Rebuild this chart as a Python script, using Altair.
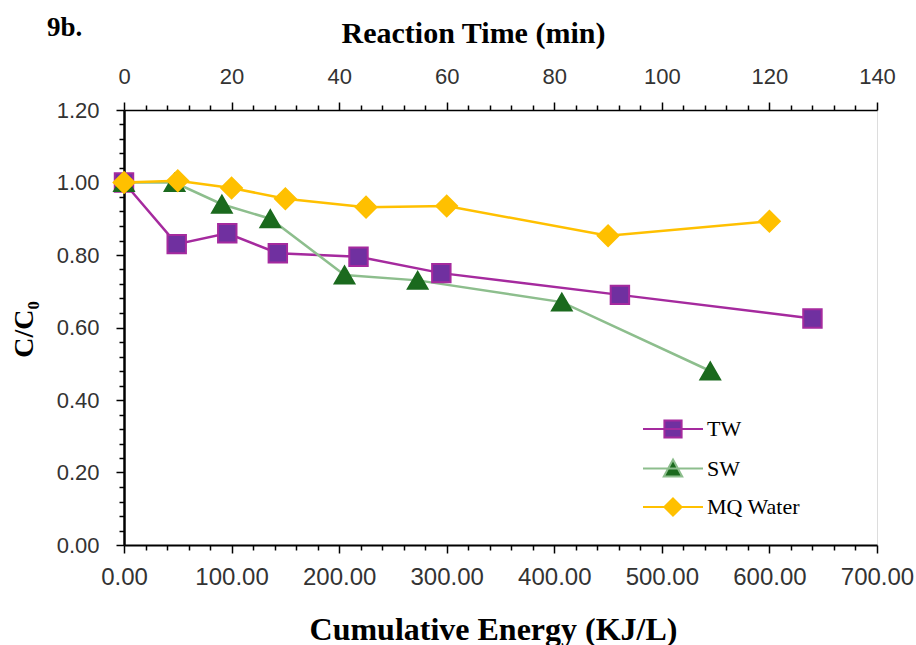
import altair as alt
import pandas as pd

# Series and their measured points (cumulative energy in KJ/L vs C/C0)
series_names = ["TW", "SW", "MQ Water"]

tw_energy = [0, 49, 96, 143, 218, 295, 461, 640]
tw_ratio = [1.00, 0.83, 0.86, 0.805, 0.795, 0.75, 0.69, 0.625]

sw_energy = [0, 47, 91, 136, 205, 273, 407, 545]
sw_ratio = [1.00, 1.00, 0.94, 0.90, 0.745, 0.73, 0.67, 0.48]

mq_energy = [0, 50, 100, 150, 225, 300, 450, 600]
mq_ratio = [1.00, 1.005, 0.985, 0.955, 0.932, 0.935, 0.853, 0.893]
mq_time = [0, 10, 20, 30, 45, 60, 90, 120]

# Tick positions (major + minor) for the three axes
energy_ticks = list(range(0, 701, 20))
time_ticks = list(range(0, 141, 4))
ratio_ticks = [round(i * 0.04, 2) for i in range(31)]

line_colors = ["#A52A9E", "#8DBE8D", "#FFC000"]
fill_colors = ["#7030A0", "#1B6A1E", "#FFC000"]
edge_colors = ["#A52A9E", "#1B6A1E", "#FFC000"]
marker_shapes = ["square", "triangle-up", "diamond"]
# legend glyphs: a short line with the series marker in the middle
legend_glyphs = [
    "M-1.5,0H1.5M-0.43,-0.43H0.43V0.43H-0.43Z",
    "M-1.5,0H1.5M0,-0.45L0.46,0.4H-0.46Z",
    "M-1.5,0H1.5M0,-0.43L0.43,0L0,0.43L-0.43,0Z",
]

rows = []
for name, xs, ys in [("TW", tw_energy, tw_ratio), ("SW", sw_energy, sw_ratio),
                     ("MQ Water", mq_energy, mq_ratio)]:
    for i, (x, y) in enumerate(zip(xs, ys)):
        rows.append({"series": name, "energy": x, "ratio": y, "idx": i})
df = pd.DataFrame(rows)
df["order"] = df["series"].map({n: i for i, n in enumerate(series_names)})

time_df = pd.DataFrame({"time": mq_time})

SERIF = "Liberation Serif, Times New Roman, serif"
SANS = "Liberation Sans, Arial, sans-serif"

x_scale = alt.Scale(domain=[0, 700], nice=False, zero=False)
y_scale = alt.Scale(domain=[0, 1.2], nice=False, zero=False)

x_axis = alt.Axis(
    values=energy_ticks,
    labelExpr="datum.value % 100 == 0 ? format(datum.value, '.2f') : ''",
    tickSize={"condition": {"test": "datum.value % 100 == 0", "value": 8}, "value": 5},
    labelFont=SANS, labelFontSize=24, labelColor="#333333", labelPadding=12,
    labelOverlap=False, labelFlush=False,
    title="Cumulative Energy (KJ/L)", titleFont=SERIF, titleFontSize=32,
    titleFontWeight="bold", titleColor="black",
    titleX=369, titleY=94, titleBaseline="alphabetic", titleAlign="center",
    domainColor="black", domainWidth=2, tickColor="black", tickWidth=1.5, grid=False,
)

y_axis = alt.Axis(
    values=ratio_ticks,
    labelExpr="abs(datum.value * 5 - round(datum.value * 5)) < 0.001 ? format(datum.value, '.2f') : ''",
    tickSize={"condition": {"test": "abs(datum.value * 5 - round(datum.value * 5)) < 0.001",
                            "value": 8}, "value": 5},
    labelFont=SANS, labelFontSize=22, labelColor="#333333", labelPadding=17,
    labelOverlap=False, labelFlush=False,
    title="C/C₀", titleFont=SERIF, titleFontSize=28, titleFontWeight="bold",
    titleColor="black", titleAngle=270, titleX=-100, titleY=219,
    titleBaseline="middle", titleAlign="center",
    domainColor="black", domainWidth=2.5, tickColor="black", tickWidth=1.5, grid=False,
)

t_axis = alt.Axis(
    orient="top",
    values=time_ticks,
    labelExpr="datum.value % 20 == 0 ? format(datum.value, 'd') : ''",
    tickSize={"condition": {"test": "datum.value % 20 == 0", "value": 8}, "value": 5},
    labelFont=SANS, labelFontSize=22, labelColor="#333333", labelPadding=14,
    labelOverlap=False, labelFlush=False,
    title="Reaction Time (min)", titleFont=SERIF, titleFontSize=30,
    titleFontWeight="bold", titleColor="black",
    titleX=349, titleY=-68, titleBaseline="alphabetic", titleAlign="center",
    domainColor="black", domainWidth=1.5, tickColor="black", tickWidth=1.5, grid=False,
)

base = alt.Chart(df)

lines = base.mark_line(strokeWidth=2.5).encode(
    x=alt.X("energy:Q", scale=x_scale, axis=x_axis),
    y=alt.Y("ratio:Q", scale=y_scale, axis=y_axis),
    stroke=alt.Stroke("series:N", scale=alt.Scale(domain=series_names, range=line_colors),
                      legend=None),
    detail="series:N",
)

points = base.mark_point(filled=True, opacity=1, strokeWidth=2).encode(
    x=alt.X("energy:Q", scale=x_scale, axis=x_axis),
    y=alt.Y("ratio:Q", scale=y_scale, axis=y_axis),
    shape=alt.Shape("series:N", scale=alt.Scale(domain=series_names, range=marker_shapes),
                    legend=None),
    fill=alt.Fill("series:N", scale=alt.Scale(domain=series_names, range=fill_colors),
                  legend=None),
    stroke=alt.Stroke("series:N", scale=alt.Scale(domain=series_names, range=edge_colors),
                      legend=None),
    size=alt.Size("series:N", scale=alt.Scale(domain=series_names, range=[340, 430, 520]),
                  legend=None),
    order=alt.Order("order:Q"),
)

legend_props = dict(
    orient="none", legendX=528, legendY=298, title=None,
    labelFont=SERIF, labelFontSize=22, labelColor="black", labelOffset=13,
    symbolSize=1600, symbolStrokeWidth=2, rowPadding=5.5, padding=0,
)

legend_layer = base.transform_filter("false").mark_point(
    filled=True, opacity=1, strokeWidth=2, size=1600
).encode(
    shape=alt.Shape("series:N", scale=alt.Scale(domain=series_names, range=legend_glyphs),
                    legend=alt.Legend(**legend_props)),
    fill=alt.Fill("series:N", scale=alt.Scale(domain=series_names, range=fill_colors),
                  legend=alt.Legend(**legend_props)),
    stroke=alt.Stroke("series:N", scale=alt.Scale(domain=series_names, range=line_colors),
                      legend=alt.Legend(**legend_props)),
)

energy_plot = alt.layer(lines, points, legend_layer).resolve_scale(
    shape="independent", fill="independent", stroke="independent", size="independent",
)

# invisible layer that only carries the reaction-time axis along the top
time_layer = alt.Chart(time_df).mark_point(opacity=0).encode(
    x=alt.X("time:Q", scale=alt.Scale(domain=[0, 140], nice=False, zero=False), axis=t_axis),
)

chart = alt.layer(energy_plot, time_layer).resolve_scale(
    x="independent",
).properties(
    width=753, height=435,
    autosize=alt.AutoSizeParams(type="none"),
    padding={"left": 124, "top": 110, "right": 39, "bottom": 100},
    title=alt.TitleParams("9b.", anchor="start", frame="group", font=SERIF, fontSize=27,
                          fontWeight="bold", color="black", dx=-77, dy=28),
).configure_view(stroke="black", strokeWidth=2).configure(background="white")

chart.save("out.html", embed_options={"renderer": "svg", "actions": False})
